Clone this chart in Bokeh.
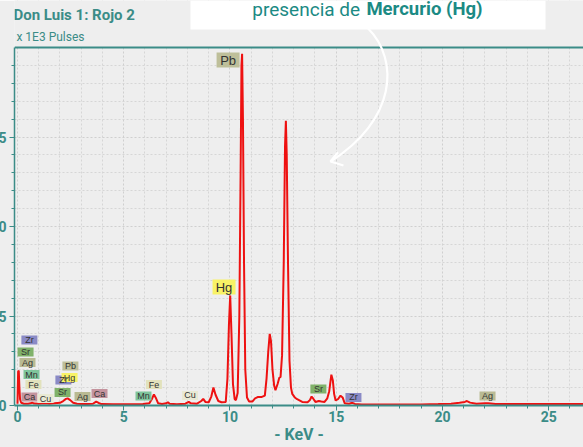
from bokeh.plotting import figure
from bokeh.models import Range1d, FixedTicker, Label, BoxAnnotation, Span, ColumnDataSource
from bokeh.embed import file_html
from bokeh.resources import INLINE
from bokeh.core.properties import value

# ---------------- data ----------------
energy_kev = [0.00, 0.03, 0.06, 0.09, 0.12, 0.18, 0.30, 0.50, 0.62, 0.69, 0.78, 1.00, 1.30, 1.50,
              1.74, 2.00, 2.15, 2.28, 2.36, 2.48, 2.62, 2.80, 3.00, 3.30, 3.55, 3.70, 3.82, 3.95,
              4.50, 5.00, 5.50, 5.90, 6.20, 6.32, 6.42, 6.50, 6.62, 6.80, 7.00, 7.08, 7.16, 7.50,
              7.90, 8.06, 8.16, 8.45, 8.65, 8.74, 8.84, 9.00, 9.12, 9.22, 9.32, 9.45, 9.60, 9.80,
              9.88, 9.95, 10.01, 10.07, 10.14, 10.22, 10.28, 10.36, 10.44, 10.50, 10.54, 10.57,
              10.61, 10.66, 10.72, 10.80, 10.90, 11.05, 11.18, 11.30, 11.50, 11.64, 11.72, 11.80,
              11.87, 11.93, 12.00, 12.08, 12.14, 12.24, 12.32, 12.38, 12.45, 12.53, 12.59, 12.63,
              12.67, 12.73, 12.80, 12.87, 12.93, 13.05, 13.16, 13.40, 13.65, 13.76, 13.84, 13.92,
              14.02, 14.18, 14.30, 14.45, 14.58, 14.67, 14.77, 14.84, 14.90, 14.97, 15.08, 15.20,
              15.30, 15.40, 15.60, 15.76, 15.88, 16.20, 16.60, 17.00, 18.00, 19.00, 19.80, 20.40,
              20.80, 21.05, 21.15, 21.30, 21.60, 22.00, 22.15, 22.50, 23.00, 24.00, 25.00, 26.00,
              26.70]
counts_k = [0.10, 1.90, 1.95, 1.00, 0.35, 0.15, 0.10, 0.10, 0.12, 0.16, 0.11, 0.10, 0.12, 0.10,
            0.12, 0.15, 0.25, 0.37, 0.40, 0.30, 0.15, 0.10, 0.08, 0.08, 0.10, 0.22, 0.14, 0.08,
            0.07, 0.07, 0.07, 0.08, 0.12, 0.35, 0.62, 0.45, 0.12, 0.08, 0.12, 0.18, 0.10, 0.07,
            0.10, 0.20, 0.12, 0.10, 0.25, 0.37, 0.20, 0.18, 0.50, 1.00, 0.60, 0.25, 0.18, 0.20,
            1.50, 4.50, 6.15, 4.00, 1.20, 0.35, 0.30, 0.70, 5.00, 13.0, 19.0, 19.65,
            16.0, 8.00, 2.00, 0.45, 0.22, 0.22, 0.40, 0.47, 0.48, 0.55, 1.50, 3.00,
            4.00, 3.60, 2.00, 1.10, 0.85, 1.20, 1.55, 1.60, 2.80, 8.00, 14.5, 15.9,
            14.0, 8.00, 2.50, 1.00, 0.65, 0.45, 0.35, 0.20, 0.18, 0.30, 0.50, 0.38,
            0.20, 0.25, 0.22, 0.20, 0.40, 0.80, 1.72, 1.40, 0.65, 0.28, 0.35, 0.55,
            0.45, 0.12, 0.10, 0.15, 0.09, 0.06, 0.06, 0.05, 0.05, 0.06, 0.08, 0.10,
            0.15, 0.20, 0.25, 0.16, 0.10, 0.13, 0.13, 0.09, 0.08, 0.08, 0.09, 0.08,
            0.08]

x_major_ticks = [0, 5, 10, 15, 20, 25]
x_minor_ticks = [v for v in range(0, 27) if v % 5 != 0]
y_major_ticks = [0, 5, 10, 15]
y_minor_ticks = [v for v in range(1, 20) if v % 5 != 0]

# element tags: (symbol, keV position, kcounts position)
tag_text = ["Zr", "Sr", "Ag", "Mn", "Fe", "Ca", "Cu", "Zr", "Pb", "Hg", "Sr", "Ag", "Ca",
            "Mn", "Fe", "Cu", "Sr", "Zr", "Ag"]
tag_x = [0.56, 0.38, 0.47, 0.66, 0.75, 0.56, 1.32, 2.16, 2.49, 2.45, 2.12, 3.06, 3.86,
         5.93, 6.42, 8.12, 14.16, 15.81, 22.12]
tag_y = [3.66, 2.99, 2.40, 1.73, 1.17, 0.47, 0.39, 1.42, 2.21, 1.56, 0.73, 0.50, 0.67,
         0.53, 1.17, 0.56, 0.92, 0.45, 0.53]
big_tag_text = ["Pb", "Hg"]
big_tag_x = [9.91, 9.72]
big_tag_y = [19.30, 6.62]

tag_colors = {"Zr": "#8a8ac6", "Sr": "#80b26a", "Ag": "#b9ba93", "Mn": "#7fc59c",
              "Fe": "#e2e2bc", "Ca": "#c4939d", "Cu": "#e9e9d3", "Pb": "#bebf9a",
              "Hg": "#f8f266"}

TEAL = "#3b8c87"
BG = "#eeeeee"
FONT = "Roboto"

p = figure(width=599, height=447, x_range=Range1d(-0.141, 26.636), y_range=Range1d(0, 22.626),
           output_backend="svg", toolbar_location=None,
           min_border_left=30, min_border_right=0, min_border_top=0, min_border_bottom=42)
p.styles = {"margin-left": "-16px", "margin-top": "0px"}
p.background_fill_color = BG
p.border_fill_color = BG
p.outline_line_color = None

# axes
p.xaxis.ticker = FixedTicker(ticks=x_major_ticks, minor_ticks=x_minor_ticks)
p.yaxis.ticker = FixedTicker(ticks=y_major_ticks, minor_ticks=y_minor_ticks)
p.yaxis.bounds = (0, 20)
for ax in (p.xaxis[0], p.yaxis[0]):
    ax.axis_line_color = TEAL
    ax.major_tick_line_color = TEAL
    ax.minor_tick_line_color = TEAL
    ax.major_label_text_color = TEAL
    ax.major_label_text_font = FONT
    ax.major_label_text_font_style = "bold"
    ax.major_tick_in = 0
    ax.minor_tick_in = 0
    ax.major_tick_out = 5
    ax.minor_tick_out = 3
    ax.major_label_standoff = 3
p.xaxis.axis_line_width = 2
p.yaxis.axis_line_width = 1.5
p.xaxis.major_label_text_font_size = "14px"
p.yaxis.major_label_text_font_size = "14px"
p.xaxis.major_label_standoff = 0
p.xaxis.axis_label = "- KeV -"
p.xaxis.axis_label_text_font = FONT
p.xaxis.axis_label_text_font_style = "bold"
p.xaxis.axis_label_text_font_size = "16px"
p.xaxis.axis_label_text_color = TEAL
p.xaxis.axis_label_standoff = 0

for g in (p.xgrid[0], p.ygrid[0]):
    g.grid_line_color = "#cfcfcf"
    g.grid_line_dash = "2 2"
    g.minor_grid_line_color = "#d6d6d6"
    g.minor_grid_line_dash = "2 2"

# hide grid above the top border, white banner
p.add_layout(BoxAnnotation(bottom=20, fill_color=BG, fill_alpha=1, line_color=None, level="underlay"))
p.add_layout(BoxAnnotation(bottom=21.0, left=8.14, right=24.85, fill_color="white", fill_alpha=1,
                           line_color=None, level="underlay"))
p.add_layout(Span(location=20, dimension="width", line_color=TEAL, line_width=2, level="underlay"))

# spectrum
p.line(energy_kev, counts_k, line_color="#ee1111", line_width=2)

# arrow
p.bezier(x0=[16.47], y0=[21.1], x1=[14.73], y1=[13.63], cx0=[18.02], cy0=[19.27],
         cx1=[17.79], cy1=[15.92], line_color="white", line_width=2.2)
p.line([15.08, 14.73, 15.34], [14.15, 13.63, 13.41], line_color="white", line_width=2.2)

# element tags
src = ColumnDataSource(dict(x=tag_x, y=tag_y, t=tag_text, c=[tag_colors[t] for t in tag_text]))
p.rect("x", "y", width=16, height=9, width_units="screen", height_units="screen",
       fill_color="c", line_color=None, source=src)
p.text("x", "y", text="t", source=src, text_align="center", text_baseline="middle",
       text_font=value("Liberation Sans"), text_font_size="9px", text_color="#333333")
bsrc = ColumnDataSource(dict(x=big_tag_x, y=big_tag_y, t=big_tag_text,
                             c=[tag_colors[t] for t in big_tag_text]))
p.rect("x", "y", width=23, height=15, width_units="screen", height_units="screen",
       fill_color="c", line_color=None, source=bsrc)
p.text("x", "y", text="t", source=bsrc, text_align="center", text_baseline="middle",
       text_font=value("Liberation Sans"), text_font_size="13px", text_color="#333333")

# texts
p.add_layout(Label(x=-0.19, y=21.84, text="Don Luis 1: Rojo 2", text_font=FONT,
                   text_font_style="bold", text_font_size="15px", text_color=TEAL,
                   text_baseline="alphabetic"))
p.add_layout(Label(x=-0.05, y=20.56, text="x 1E3 Pulses", text_font=FONT,
                   text_font_size="12px", text_color=TEAL, text_baseline="alphabetic"))
p.add_layout(Label(x=11.05, y=22.13, text="presencia de", text_font=FONT,
                   text_font_size="19px", text_color="#1b8a84", text_baseline="alphabetic"))
p.add_layout(Label(x=16.42, y=22.13, text="Mercurio (Hg)", text_font=FONT,
                   text_font_style="bold", text_font_size="18.5px", text_color="#1b8a84",
                   text_baseline="alphabetic"))

open("out.html", "w").write(file_html(p, INLINE))
